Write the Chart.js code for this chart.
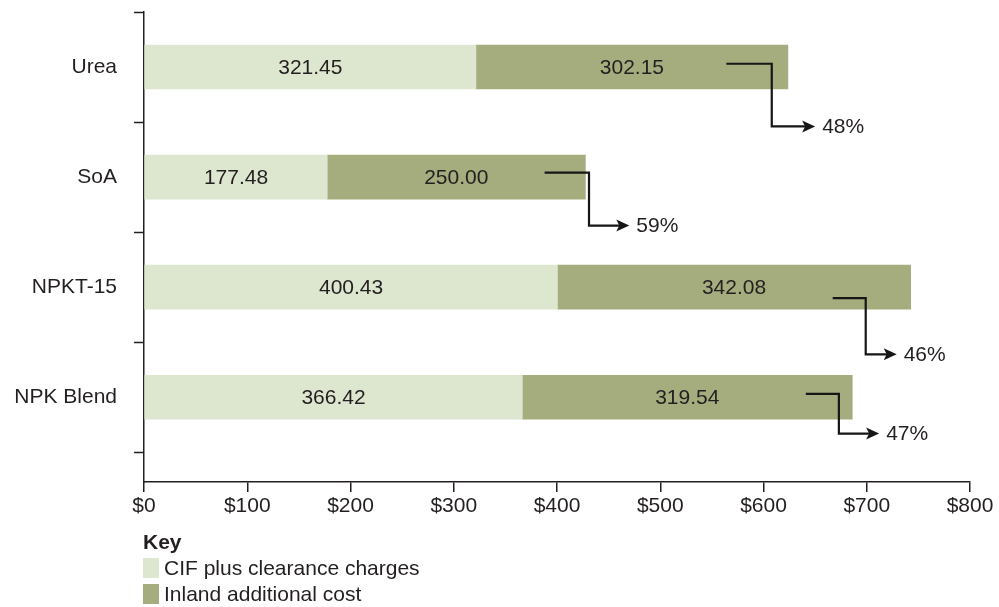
<!DOCTYPE html>
<html lang="en">
<head>
  <meta charset="UTF-8" />
  <title>Fertilizer cost build-up</title>
  <script src="https://cdn.jsdelivr.net/npm/chart.js"></script>
  <style>
    body {
      margin: 0;
      background: #fff;
      font-family: 'Liberation Sans', Arial, sans-serif;
      color: #231f20;
    }

    .wrap {
      position: relative;
      width: 999px;
      height: 607px;
    }

    .key {
      position: absolute;
      left: 143px;
      top: 529px;
      font-size: 21px;
      line-height: 26px;
    }

    .key b {
      display: block;
      line-height: 26px;
    }

    .key .item {
      display: flex;
      align-items: center;
      height: 26px;
    }

    .key .swatch {
      width: 16px;
      height: 20px;
      margin-right: 5px;
    }
  </style>
</head>
<body>

  <div class="wrap">
    <canvas id="costChart" width="999" height="607"></canvas>
    <div class="key" id="key"><b>Key</b></div>
  </div>

  <script>
    const categories = ['Urea', 'SoA', 'NPKT-15', 'NPK Blend'];
    const seriesNames = ['CIF plus clearance charges', 'Inland additional cost'];
    const cifCharges = [321.45, 177.48, 400.43, 366.42];
    const inlandCost = [302.15, 250.00, 342.08, 319.54];
    const inlandShare = ['48%', '59%', '46%', '47%'];
    const xTicks = [0, 100, 200, 300, 400, 500, 600, 700, 800];

    // elbow arrows pointing to the inland share, in $ and category units
    const arrowStart = [564, 388, 667, 641];
    const arrowBend = [608, 431, 699, 673];
    const arrowTip = [650, 470, 729, 712];
    const arrowLevel = [-0.03, 0.96, 2.1, 2.97];
    const arrowDrop = [0.54, 1.44, 2.61, 3.33];

    const colors = ['#dde6ce', '#a5ad7e'];
    const ink = '#231f20';
    const font = "'Liberation Sans', Arial, sans-serif";
    const fontSize = 21;

    // legend below the plot
    const key = document.getElementById('key');
    seriesNames.forEach((name, i) => {
      const row = document.createElement('div');
      row.className = 'item';
      row.innerHTML = '<span class="swatch" style="background:' + colors[i] + '"></span>' + name;
      key.appendChild(row);
    });

    const labelsPlugin = {
      id: 'barText',
      afterDatasetsDraw(chart) {
        const ctx = chart.ctx;
        const xs = chart.scales.x;
        const ys = chart.scales.y;
        ctx.save();
        ctx.font = fontSize + 'px ' + font;
        ctx.fillStyle = ink;
        ctx.textAlign = 'center';
        ctx.textBaseline = 'middle';

        chart.data.datasets.forEach((ds, d) => {
          chart.getDatasetMeta(d).data.forEach((bar, i) => {
            const txt = ds.data[i].x.toFixed(2);
            ctx.fillText(txt, (bar.x + bar.base) / 2, bar.y + 1);
          });
        });

        // tick marks between categories on the left axis
        ctx.strokeStyle = ink;
        ctx.lineWidth = 1.5;
        for (let i = 0; i <= categories.length; i++) {
          const y = Math.round(ys.getPixelForValue(i - 0.5)) + 0.5;
          ctx.beginPath();
          ctx.moveTo(xs.left - 10, y);
          ctx.lineTo(xs.left, y);
          ctx.stroke();
        }

        // arrows and share labels
        ctx.lineWidth = 2.2;
        categories.forEach((c, i) => {
          const x0 = xs.getPixelForValue(arrowStart[i]);
          const x1 = xs.getPixelForValue(arrowBend[i]);
          const x2 = xs.getPixelForValue(arrowTip[i]);
          const y0 = ys.getPixelForValue(arrowLevel[i]);
          const y1 = ys.getPixelForValue(arrowDrop[i]);
          ctx.strokeStyle = '#161616';
          ctx.fillStyle = '#161616';
          ctx.beginPath();
          ctx.moveTo(x0, y0);
          ctx.lineTo(x1, y0);
          ctx.lineTo(x1, y1);
          ctx.lineTo(x2 - 6, y1);
          ctx.stroke();
          ctx.beginPath();
          ctx.moveTo(x2, y1);
          ctx.lineTo(x2 - 13, y1 - 6);
          ctx.lineTo(x2 - 10, y1);
          ctx.lineTo(x2 - 13, y1 + 6);
          ctx.closePath();
          ctx.fill();

          ctx.fillStyle = ink;
          ctx.textAlign = 'left';
          ctx.fillText(inlandShare[i], x2 + 7, y1 + 1);
        });
        ctx.restore();
      }
    };

    new Chart(document.getElementById('costChart'), {
      type: 'bar',
      data: {
        datasets: [
          {
            label: seriesNames[0],
            data: cifCharges.map((v, i) => ({ x: v, y: i })),
            backgroundColor: colors[0]
          },
          {
            label: seriesNames[1],
            data: inlandCost.map((v, i) => ({ x: v, y: i })),
            backgroundColor: colors[1]
          }
        ]
      },
      options: {
        indexAxis: 'y',
        responsive: false,
        animation: false,
        barThickness: 44,
        layout: {
          padding: { top: 12, right: 29, bottom: 85, left: 0 }
        },
        plugins: {
          legend: { display: false },
          tooltip: { enabled: false }
        },
        scales: {
          x: {
            type: 'linear',
            stacked: true,
            min: 0,
            max: 800,
            afterBuildTicks(scale) {
              scale.ticks = xTicks.map(v => ({ value: v }));
            },
            afterFit(scale) {
              scale.height = 40;
            },
            ticks: {
              color: ink,
              font: { family: font, size: fontSize },
              padding: 2,
              callback: v => '$' + v
            },
            grid: {
              drawOnChartArea: false,
              tickLength: 10,
              color: ink,
              lineWidth: 1.5
            },
            border: { display: true, color: ink, width: 1.5 }
          },
          y: {
            type: 'linear',
            stacked: true,
            reverse: true,
            offset: false,
            min: -0.5,
            max: 3.77,
            afterBuildTicks(scale) {
              scale.ticks = categories.map((c, i) => ({ value: i }));
            },
            afterFit(scale) {
              scale.width = 144;
              scale.paddingTop = 0;
              scale.paddingBottom = 0;
            },
            ticks: {
              color: ink,
              font: { family: font, size: fontSize },
              padding: 19,
              callback: v => categories[v]
            },
            grid: { display: false },
            border: { display: true, color: ink, width: 1.5 }
          }
        }
      },
      plugins: [labelsPlugin]
    });
  </script>

</body>
</html>
